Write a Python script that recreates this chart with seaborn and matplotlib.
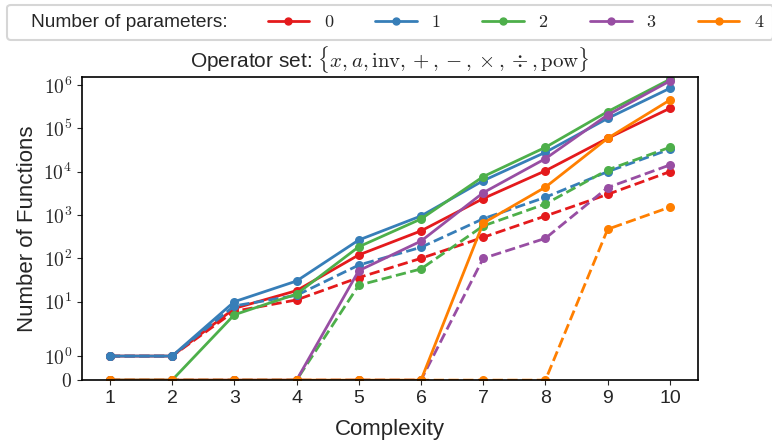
import numpy as np
import pandas as pd
import matplotlib
matplotlib.use("Agg")
import matplotlib.pyplot as plt
import seaborn as sns
from matplotlib.lines import Line2D
from matplotlib.ticker import NullLocator
from matplotlib.offsetbox import HPacker, DrawingArea

# Data
complexity = [1, 2, 3, 4, 5, 6, 7, 8, 9, 10]
n_params = [0, 1, 2, 3, 4]

# solid lines (all functions)
total_0 = [1, 1, 7, 18, 120, 430, 2400, 10500, 59000, 290000]
total_1 = [1, 1, 10, 30, 265, 950, 6200, 28000, 170000, 840000]
total_2 = [0, 0, 5, 15, 185, 810, 7700, 36500, 243000, 1350000]
total_3 = [0, 0, 0, 0, 52, 250, 3270, 20000, 204000, 1240000]
total_4 = [0, 0, 0, 0, 0, 0, 650, 4400, 59000, 450000]

# dashed lines (unique functions)
unique_0 = [1, 1, 6, 11, 36, 100, 306, 950, 3000, 10000]
unique_1 = [1, 1, 8, 14, 70, 180, 820, 2570, 10000, 33000]
unique_2 = [0, 0, 0, 0, 24, 57, 560, 1800, 11000, 36500]
unique_3 = [0, 0, 0, 0, 0, 0, 100, 290, 4300, 14300]
unique_4 = [0, 0, 0, 0, 0, 0, 0, 0, 470, 1520]

totals = [total_0, total_1, total_2, total_3, total_4]
uniques = [unique_0, unique_1, unique_2, unique_3, unique_4]

rows = []
for p in n_params:
    for c, t, u in zip(complexity, totals[p], uniques[p]):
        rows.append({"Complexity": c, "count": t, "params": p, "kind": "all"})
        rows.append({"Complexity": c, "count": u, "params": p, "kind": "unique"})
df = pd.DataFrame(rows)

sns.set_style("ticks")
plt.rcParams["font.family"] = ["Liberation Sans", "DejaVu Sans"]
plt.rcParams["mathtext.fontset"] = "cm"

colors = sns.color_palette("Set1", 5)

fig = plt.figure(figsize=(7.72, 4.40), dpi=100)
ax = fig.add_axes([0.106, 0.136, 0.798, 0.689])

sns.lineplot(data=df, x="Complexity", y="count", hue="params", style="kind",
             palette=colors, dashes={"all": "", "unique": (3.7, 1.6)},
             markers={"all": "o", "unique": "o"}, markersize=6.5,
             markeredgewidth=0, linewidth=2, legend=False, ax=ax)

ax.set_yscale("symlog", linthresh=2, linscale=1)
ax.set_ylim(0, 1.53e6)
ax.set_xlim(0.55, 10.45)
yt = [0, 1, 10, 100, 1000, 1e4, 1e5, 1e6]
ax.set_yticks(yt)
ax.set_yticklabels(["$0$"] + ["$10^{%d}$" % k for k in range(7)])
ax.yaxis.set_minor_locator(NullLocator())
ax.set_xticks(complexity)
ax.tick_params(axis="y", labelsize=14)
ax.tick_params(axis="x", labelsize=14)
for s in ax.spines.values():
    s.set_linewidth(1.2)
    s.set_color("black")

ax.set_xlabel("Complexity", fontsize=16, labelpad=9)
ax.set_ylabel("Number of Functions", fontsize=16)
ax.set_title(r"Operator set: $\{x, a, \mathrm{inv}, +, -, \times, \div, \mathrm{pow}\}$",
             fontsize=15, pad=7)

handles = [Line2D([], [], color=colors[p], marker="o", lw=2, markersize=5)
           for p in n_params]
labels = ["$%d$" % p for p in n_params]
fs = 13
leg = fig.legend(handles, labels, ncol=5, loc="upper left",
                 bbox_to_anchor=(0.009, 0.989), borderaxespad=0, fontsize=fs,
                 title="Number of parameters:", title_fontsize=13.8,
                 handlelength=2.3, handletextpad=0.8, columnspacing=2.3,
                 frameon=True, fancybox=True, edgecolor="#cccccc", borderpad=0.5)
leg.get_frame().set_linewidth(1.5)
# put the title on the same row as the entries, with some room on the left
inner = HPacker(pad=0, sep=2.2 * fs, align="center",
                children=[leg._legend_title_box, leg._legend_handle_box])
leg._legend_box = HPacker(pad=leg.borderpad * fs, sep=0, align="center",
                          children=[DrawingArea(11, 1), inner])
leg._legend_box.set_figure(fig)
leg._legend_box.set_offset(leg._findoffset)

fig.savefig("out.png", dpi=100)
